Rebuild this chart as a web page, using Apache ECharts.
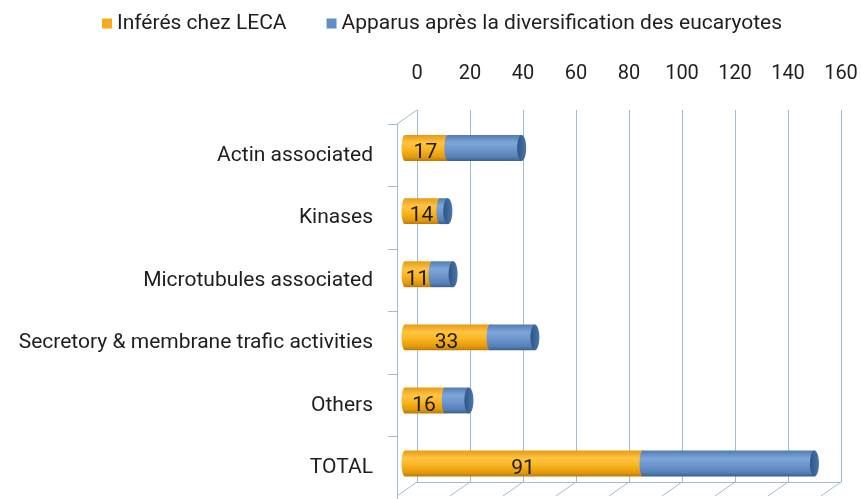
<!DOCTYPE html>
<html>
<head>
<meta charset="utf-8">
<script src="https://cdn.jsdelivr.net/npm/echarts@6/dist/echarts.min.js"></script>
<style>
  html, body { margin: 0; padding: 0; background: #ffffff; }
  #chart { width: 861px; height: 499px; }
</style>
</head>
<body>
<div id="chart"></div>
<script>
// Gene families: inferred in LECA vs. appeared after eukaryote diversification
const categories = [
  'Actin associated',
  'Kinases',
  'Microtubules associated',
  'Secretory & membrane trafic activities',
  'Others',
  'TOTAL'
];
const inferredLECA = [17, 14, 11, 33, 16, 91];
const afterDiversification = [28, 3, 8, 17, 9, 65];
const axisTicks = [0, 20, 40, 60, 80, 100, 120, 140, 160];
const seriesNames = ['Inférés chez LECA', 'Apparus après la diversification des eucaryotes'];

const FONT = 'Roboto, "Noto Sans", sans-serif';
const TEXT_COLOR = '#1e1e1e';
const WALL_COLOR = '#a3bccb';
const DEPTH_DX = -20, DEPTH_DY = 14;   // oblique offset from back wall to front edge
const BAR_RATIO = 0.41;                // cylinder thickness relative to category band
const CAP_RX = 4.5;                    // horizontal radius of the cylinder end ellipses

const vGrad = (stops) => new echarts.graphic.LinearGradient(0, 0, 0, 1,
  stops.map(([offset, color]) => ({ offset, color })));

const orangeBody = () => vGrad([[0, '#e79a12'], [0.3, '#ffc443'], [0.55, '#fbb623'], [0.85, '#e39a0c'], [1, '#b97a08']]);
const blueBody = () => vGrad([[0, '#4f7cb4'], [0.3, '#7ea6d8'], [0.55, '#6d97cd'], [0.85, '#5580b8'], [1, '#3a5f8e']]);
const blueCap = () => new echarts.graphic.LinearGradient(0, 0, 1, 0,
  [{ offset: 0, color: '#2f5584' }, { offset: 1, color: '#4a77ad' }]);

// Draws one stacked cylinder segment from value(0) to value(1) on category value(2)
function segmentRenderer(isBase) {
  return function (params, api) {
    const start = api.value(0), end = api.value(1), cat = api.value(2);
    const p0 = api.coord([start, cat]);
    const p1 = api.coord([end, cat]);
    const h = api.size([0, 1])[1] * BAR_RATIO;
    const cy = p0[1];
    const body = isBase ? orangeBody : blueBody;
    const inset = isBase ? 2 : 0;
    const children = [
      { type: 'ellipse', shape: { cx: p0[0] + inset, cy, rx: CAP_RX - 1, ry: h / 2 }, style: { fill: body() } },
      { type: 'rect', shape: { x: p0[0] + inset, y: cy - h / 2, width: p1[0] - p0[0] - inset, height: h }, style: { fill: body() } }
    ];
    if (isBase) {
      children.push({
        type: 'text',
        style: {
          text: String(end - start),
          x: (p0[0] + p1[0]) / 2, y: cy + 5,
          align: 'center', verticalAlign: 'middle',
          font: '21px ' + FONT, fill: '#1a1a1a'
        },
        z2: 10
      });
    } else {
      children.push({ type: 'ellipse', shape: { cx: p1[0], cy, rx: CAP_RX, ry: h / 2 }, style: { fill: blueCap() } });
    }
    return { type: 'group', children };
  };
}

// Floor lines running forward from each gridline, plus the top edge of the side wall
function wallRenderer(params, api) {
  const v = api.value(0);
  const b = api.coord([v, 0]);
  const children = [{
    type: 'line',
    shape: { x1: b[0], y1: b[1], x2: b[0] + DEPTH_DX, y2: b[1] + DEPTH_DY },
    style: { stroke: WALL_COLOR, lineWidth: 1 }
  }];
  if (v === 0) {
    const t = api.coord([0, 1]);
    children.push({
      type: 'line',
      shape: { x1: t[0], y1: t[1], x2: t[0] + DEPTH_DX, y2: t[1] + DEPTH_DY },
      style: { stroke: WALL_COLOR, lineWidth: 1 }
    });
  }
  return { type: 'group', children };
}

const baseData = categories.map((c, i) => [0, inferredLECA[i], i]);
const topData = categories.map((c, i) => [inferredLECA[i], inferredLECA[i] + afterDiversification[i], i]);

const chart = echarts.init(document.getElementById('chart'), null, { renderer: 'canvas' });
chart.setOption({
  backgroundColor: '#ffffff',
  animation: false,
  textStyle: { fontFamily: FONT },
  legend: {
    data: seriesNames,
    left: 97, top: 8,
    icon: 'rect', itemWidth: 10, itemHeight: 10, itemGap: 40,
    textStyle: { fontSize: 21, color: TEXT_COLOR, fontFamily: FONT }
  },
  grid: [
    // back wall with the value scale on top
    { left: 417, width: 424, top: 110, height: 372 },
    // front edge of the side wall carrying the category labels
    { left: 397, width: 424, top: 124, height: 379 },
    // plane in which the cylinders sit
    { left: 403, width: 422, top: 116.5, height: 378.6 }
  ],
  xAxis: [
    {
      gridIndex: 0, type: 'value', position: 'top', min: 0, max: 160, interval: 20,
      axisLine: { show: true, lineStyle: { color: WALL_COLOR, width: 1 } },
      axisTick: { show: true, length: 8, lineStyle: { color: WALL_COLOR } },
      axisLabel: { fontSize: 20, color: TEXT_COLOR, margin: 26, fontFamily: FONT },
      splitLine: { show: true, lineStyle: { color: WALL_COLOR, width: 1 } }
    },
    { gridIndex: 1, type: 'value', min: 0, max: 160, show: false },
    { gridIndex: 2, type: 'value', min: 0, max: 160, show: false }
  ],
  yAxis: [
    { gridIndex: 0, type: 'value', min: 0, max: 1, show: false },
    {
      gridIndex: 1, type: 'category', data: categories, inverse: true,
      axisLine: { show: true, lineStyle: { color: WALL_COLOR, width: 1 } },
      axisTick: { show: true, length: 9, lineStyle: { color: WALL_COLOR } },
      axisLabel: { fontSize: 21, color: TEXT_COLOR, margin: 24, fontFamily: FONT },
      splitLine: { show: false }
    },
    { gridIndex: 2, type: 'category', data: categories, inverse: true, show: false }
  ],
  series: [
    {
      type: 'custom', name: 'wall', xAxisIndex: 0, yAxisIndex: 0,
      data: axisTicks.map(v => [v, 0]),
      renderItem: wallRenderer, silent: true, z: 1
    },
    {
      type: 'custom', name: seriesNames[0], xAxisIndex: 2, yAxisIndex: 2,
      itemStyle: { color: '#f7ab1b' },
      data: baseData, encode: { x: [0, 1], y: 2 },
      renderItem: segmentRenderer(true), z: 3
    },
    {
      type: 'custom', name: seriesNames[1], xAxisIndex: 2, yAxisIndex: 2,
      itemStyle: { color: '#5f8ec8' },
      data: topData, encode: { x: [0, 1], y: 2 },
      renderItem: segmentRenderer(false), z: 4
    }
  ]
});
</script>
</body>
</html>
